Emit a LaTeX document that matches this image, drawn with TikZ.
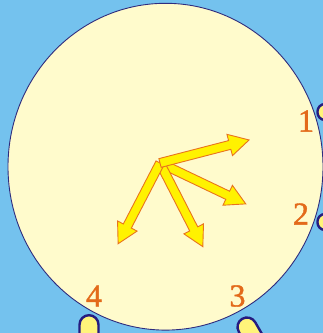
\documentclass[tikz,border=0pt]{standalone}
\usepackage{fontspec}
\setmainfont{Liberation Serif}
\newfontfamily\numfont[FakeBold=1.2]{Liberation Serif}
\definecolor{bg}{HTML}{74C2EE}
\definecolor{face}{HTML}{FFFBCC}
\definecolor{rim}{HTML}{2E2C7E}
\definecolor{pin}{HTML}{FFF47A}
\definecolor{pinrim}{HTML}{261C80}
\definecolor{arrowfill}{HTML}{FFF200}
\definecolor{arrowline}{HTML}{E8731E}
\definecolor{numcol}{HTML}{E36A1A}
\tikzset{
  fatarrow/.style={fill=arrowfill, draw=arrowline, line width=0.9pt, line join=miter},
  pinshape/.style={fill=pin, draw=pinrim, line width=2.4pt},
  numlabel/.style={text=numcol, font=\numfont\fontsize{32}{32}\selectfont, inner sep=0pt},
}
% #1 angle, #2 length, #3 length minus head length
\newcommand{\myfatarrow}[3]{%
  \begin{scope}[shift={(O)}, rotate=#1]
    \draw[fatarrow] (0,-4.5) -- (#3,-4.5) -- (#3,-11) -- (#2,0) -- (#3,11) -- (#3,4.5) -- (0,4.5) -- cycle;
  \end{scope}}
\begin{document}
\begin{tikzpicture}[x=1pt,y=1pt]
  \useasboundingbox (0,0) rectangle (323,333);
  \clip (0,0) rectangle (323,333);
  \fill[bg] (0,0) rectangle (323,333);
  % clock face
  \draw[fill=face, draw=rim, line width=0.9pt] (165.5,166.3) ellipse [x radius=157.5, y radius=163.4];
  % pins
  \draw[pinshape, rounded corners=9.5pt] (79.5,-30) rectangle (98.5,17.8);
  \begin{scope}[shift={(247,6)}, rotate=30]
    \draw[pinshape, rounded corners=9.5pt] (-9.5,-40) rectangle (9.5,9.5);
  \end{scope}
  \draw[pinshape, rounded corners=7.5pt] (317.5,213) rectangle (345,229);
  \draw[pinshape, rounded corners=7.5pt] (317.5,103) rectangle (345,119);
  % numbers
  \node[numlabel] (n1) at (306,212) {1};
  \node[numlabel] (n2) at (301,119) {2};
  \node[numlabel] (n3) at (237.5,37) {3};
  \node[numlabel] (n4) at (94,37) {4};
  % arrows
  \coordinate (O) at (160,170);
  \myfatarrow{-25.5}{95}{75}
  \myfatarrow{-62.9}{94}{74}
  \myfatarrow{-117.4}{91}{71}
  \myfatarrow{14.5}{92}{72}
\end{tikzpicture}
\end{document}
